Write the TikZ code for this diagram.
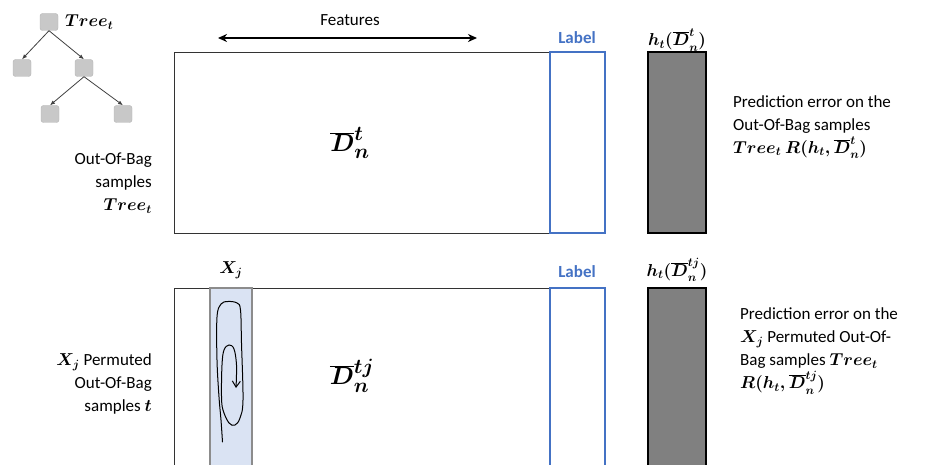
\documentclass[tikz,border=0pt]{standalone}
\usepackage{fontspec}
\setmainfont{Carlito}
\usetikzlibrary{arrows.meta}
\definecolor{lblblue}{HTML}{4472C4}
\definecolor{colfill}{HTML}{DAE3F3}
\definecolor{colline}{HTML}{8C8C8C}
\definecolor{barfill}{HTML}{808080}
\definecolor{treefill}{HTML}{C8C8C8}
\definecolor{treeline}{HTML}{B4B4B4}
\newcommand{\mb}[1]{{\boldmath$#1$}}
\begin{document}
\begin{tikzpicture}[x=1pt,y=-1pt,
  txt/.style={inner sep=0pt, font=\fontsize{17}{23}\selectfont},
  mainbox/.style={draw=black!80, line width=0.9pt, fill=white, inner sep=0pt},
  lblbox/.style={draw=lblblue, line width=1.6pt, inner sep=0pt, minimum width=55pt},
  barbox/.style={draw=black, line width=2pt, fill=barfill, inner sep=0pt, minimum width=58pt},
  colbox/.style={draw=colline, line width=1.6pt, fill=colfill, inner sep=0pt, minimum width=42pt},
  treebox/.style={draw=treeline, fill=treefill, rounded corners=2.5pt, minimum width=18pt, minimum height=17pt, inner sep=0pt},
  treearrow/.style={draw=black!75, line width=0.8pt, -{Latex[length=5pt,width=4pt]}},
  bigmath/.style={inner sep=0pt, font=\fontsize{32}{36}\selectfont},
  lbltxt/.style={inner sep=0pt, text=lblblue, font=\fontsize{17}{20}\selectfont\bfseries},
]
\useasboundingbox (0,0) rectangle (930,465);
\clip (0,0) rectangle (930,465);

% ---------- tree ----------
\node[treebox] (r) at (49,22) {};
\node[treebox] (c1) at (22,68) {};
\node[treebox] (c2) at (84,68) {};
\node[treebox] (g1) at (50,114) {};
\node[treebox] (g2) at (123,114) {};
\draw[treearrow] (r.south) -- (c1.north);
\draw[treearrow] (r.south) -- (c2.north);
\draw[treearrow] (c2.south) -- (g1.north);
\draw[treearrow] (c2.south) -- (g2.north);
\node[txt, anchor=west, font=\fontsize{18}{20}\selectfont] (treelbl) at (65,22) {\mb{Tree_t}};

% ---------- top row ----------
\node[mainbox, minimum width=376pt, minimum height=181pt] (D1) at (362,142.5) {};
\node[lblbox, minimum height=181pt] (L1) at (577.5,142.5) {};
\node[barbox, minimum height=181pt] (B1) at (676.5,142.5) {};

\node[txt] (feat) at (350,20) {Features};
\coordinate (fa) at (218,38);
\coordinate (fb) at (477,38);
\draw[line width=1.6pt, {Stealth[length=9pt,width=8pt]}-{Stealth[length=9pt,width=8pt]}] (fa) -- (fb);

\node[lbltxt] (lab1) at (577,38) {Label};
\node[inner sep=0pt, font=\fontsize{18}{20}\selectfont] (h1) at (677,40) {\mb{h_t(\overline{D}_n^t)}};
\node[bigmath] (Dt) at (350,143) {\mb{\overline{D}_n^t}};

\node[txt, anchor=east, align=right] (oob1) at (152,183) {Out-Of-Bag\\samples\\\mb{Tree_t}};
\node[txt, anchor=west, align=left] (err1) at (733,127) {Prediction error on the\\Out-Of-Bag samples\\\mb{Tree_t\ R(h_t,\overline{D}_n^t)}};

% ---------- bottom row ----------
\node[mainbox, minimum width=376pt, minimum height=212pt] (D2) at (362,394) {};
\node[colbox, minimum height=212pt] (Xc) at (231,394) {};
\node[lblbox, minimum height=212pt] (L2) at (577.5,394) {};
\node[barbox, minimum height=212pt] (B2) at (676.5,394) {};

\node[inner sep=0pt, font=\fontsize{18}{20}\selectfont] (xj) at (231,270) {\mb{X_j}};
\node[lbltxt] (lab2) at (577,272) {Label};
\node[inner sep=0pt, font=\fontsize{18}{20}\selectfont] (h2) at (677,270) {\mb{h_t\bigl(\overline{D}_n^{tj}\bigr)}};
\node[bigmath] (Dtj) at (352,376) {\mb{\overline{D}_n^{tj}}};

\node[txt, anchor=east, align=right] (oob2) at (152,384) {\mb{X_j} Permuted\\Out-Of-Bag\\samples \mb{t}};
\node[txt, anchor=west, align=left] (err2) at (740,351) {Prediction error on the\\\mb{X_j} Permuted Out-Of-\\Bag samples \mb{Tree_t}\\\mb{R(h_t,\overline{D}_n^{tj})}};

% spiral
\draw[line width=1pt, line cap=round, -{Straight Barb[length=6pt,width=8pt]}]
  plot[smooth, tension=0.6] coordinates {(222.5,442) (221,420) (219,397) (217,360) (217,317) (221,304) (228,301.5) (237,303) (240.5,310) (241.5,343) (243,400) (240,418) (235,425) (229,423) (223,410) (221.5,396) (222,365) (224,350) (229,345) (234,349) (236.5,365) (236,388)};
\end{tikzpicture}
\end{document}
